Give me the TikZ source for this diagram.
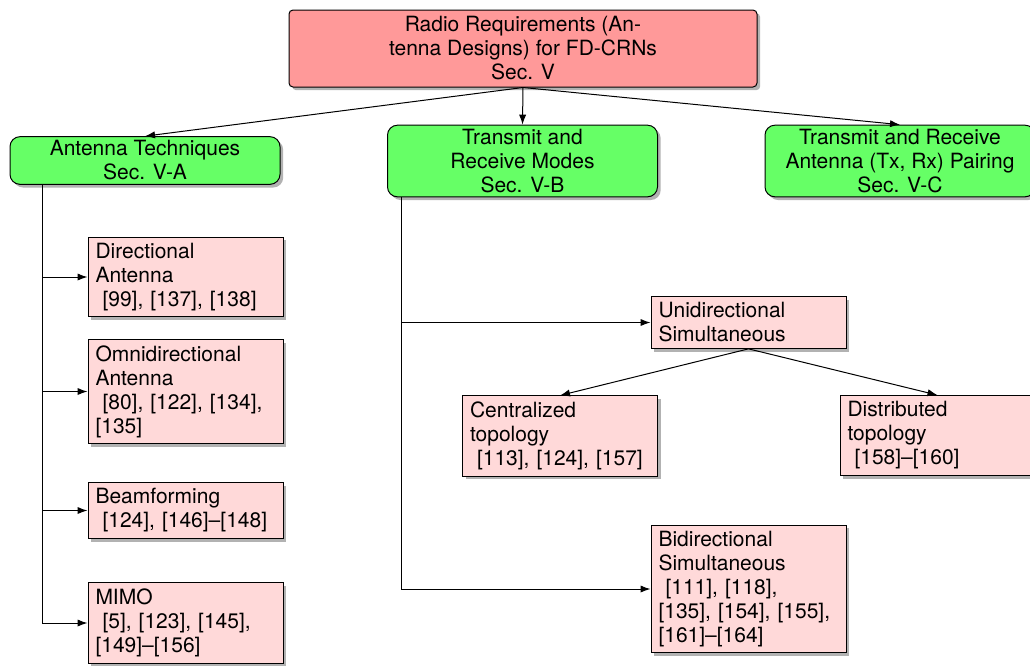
\documentclass[tikz,border=0pt]{standalone}
\usepackage{fontspec}
\setmainfont{TeX Gyre Heros}
\usetikzlibrary{shadows,arrows.meta}

\begin{document}
\begin{tikzpicture}[
        x=0.5pt, y=-0.5pt,
        every node/.style={draw, line width=0.5pt, font=\fontsize{10.5}{12}\selectfont,
            drop shadow={shadow xshift=1.6pt, shadow yshift=-1.6pt, fill=black!60, opacity=0.5}},
        rootbox/.style={fill=red!40, rounded corners=2pt, align=center,
            minimum width=234pt, minimum height=38.5pt, inner ysep=2pt},
        secbox/.style={fill=green!60, rounded corners=5pt, align=center,
            minimum width=135pt, inner ysep=2pt},
        leafbox/.style={fill=red!15, align=left, text width=90pt,
            inner xsep=3.75pt, inner ysep=3pt},
        link/.style={line width=0.5pt, -{Latex[length=5pt,width=3.6pt]}},
    ]
    \useasboundingbox (0,0) rectangle (1030,666);

    \node[rootbox] (root) at (523,48.5) {Radio Requirements (An-\\tenna Designs) for FD-CRNs\\Sec. V};

    \node[secbox] (tech) at (145,160.5) {Antenna Techniques\\Sec. V-A};
    \node[secbox] (modes) at (522.5,161) {Transmit and\\Receive Modes\\Sec. V-B};
    \node[secbox] (pair) at (900,161) {Transmit and Receive\\Antenna (Tx, Rx) Pairing\\Sec. V-C};

    \node[leafbox] (dir) at (185.5,277) {Directional\\Antenna\\\ [99], [137], [138]};
    \node[leafbox] (omni) at (185.5,391.5) {Omnidirectional\\Antenna\\\ [80], [122], [134],\\{}[135]};
    \node[leafbox] (beam) at (185.5,510.5) {Beamforming\\\ [124], [146]--[148]};
    \node[leafbox] (mimo) at (185.5,623) {MIMO\\\ [5], [123], [145],\\{}[149]--[156]};

    \node[leafbox] (uni) at (748.5,322.5) {Unidirectional\\Simultaneous};
    \node[leafbox] (cen) at (560,436) {Centralized\\topology\\\ [113], [124], [157]};
    \node[leafbox] (dist) at (937.5,435.5) {Distributed\\topology\\\ [158]--[160]};
    \node[leafbox] (bi) at (748.5,589) {Bidirectional\\Simultaneous\\\ [111], [118],\\{}[135], [154], [155],\\{}[161]--[164]};

    \draw[link] (root.south) -- (tech.north);
    \draw[link] (root.south) -- (modes.north);
    \draw[link] (root.south) -- (pair.north);

    \foreach \leaf in {dir,omni,beam,mimo}
        \draw[link] ([xshift=16.5pt]tech.south west) |- (\leaf.west);

    \draw[link] ([xshift=7pt]modes.south west) |- (uni.west);
    \draw[link] ([xshift=7pt]modes.south west) |- (bi.west);

    \draw[link] (uni.south) -- (cen.north);
    \draw[link] (uni.south) -- (dist.north);
\end{tikzpicture}
\end{document}
